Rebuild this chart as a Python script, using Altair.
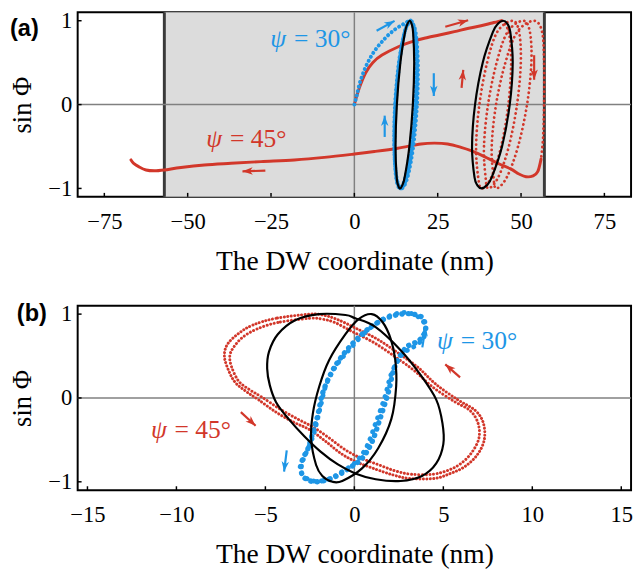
import math
import altair as alt
import pandas as pd

# ---------------- values ----------------
a_x_ticks = [-75, -50, -25, 0, 25, 50, 75]
b_x_ticks = [-15, -10, -5, 0, 5, 10, 15]
y_ticks = [-1, 0, 1]
a_band = [-57, 57]

# panel (a) – psi = 45 deg (red)
a_red_fwd_x = [0, 1.5, 3.4, 5.5, 8.3, 13.2, 18.1, 22.0, 25.5, 30.0, 34.3, 38.0, 41.0, 43.0, 44.2]
a_red_fwd_y = [0, 0.2, 0.38, 0.5, 0.59, 0.69, 0.76, 0.8, 0.83, 0.87, 0.91, 0.94, 0.97, 0.99, 1.0]

a_red_loop_x = [44.2, 46.3, 47.03, 46.2, 44.03, 41.1, 38.2, 37.14, 36.52, 37.5, 39.82, 42.86,
                47.4, 49.42, 49.93, 48.8, 46.33, 43.18, 40.2, 39.36, 38.88, 40.1, 42.68, 45.94,
                50.6, 52.66, 53.1, 51.8, 49.1, 45.74, 42.6, 41.75, 41.2, 42.5, 45.3, 48.85,
                53.8, 56.3, 56.9, 56.9, 56.6, 56.0]
a_red_loop_y = [1.0, 0.866, 0.5, 0.0, -0.5, -0.866, -1.0, -0.866, -0.5, 0.0, 0.5, 0.866,
                1.0, 0.866, 0.5, 0.0, -0.5, -0.866, -1.0, -0.866, -0.5, 0.0, 0.5, 0.866,
                1.0, 0.866, 0.5, 0.0, -0.5, -0.866, -1.0, -0.866, -0.5, 0.0, 0.5, 0.866,
                1.0, 0.87, 0.5, 0.0, -0.4, -0.65]

a_red_back_x = [56.0, 55.0, 53.6, 51.5, 49.0, 47.0, 43.0, 39.0, 35.0, 32.0, 28.0, 24.0, 20.0,
                13.0, 6.0, 0.0, -9.0, -18.0, -28.0, -37.0, -45.0, -52.0, -57.0, -60.0, -62.5,
                -64.7, -66.2, -67.0]
a_red_back_y = [-0.65, -0.8, -0.85, -0.86, -0.82, -0.77, -0.7, -0.62, -0.55, -0.51, -0.47,
                -0.46, -0.47, -0.52, -0.56, -0.59, -0.63, -0.66, -0.68, -0.7, -0.72, -0.75, -0.78,
                -0.79, -0.78, -0.74, -0.7, -0.66]

# panel (a) – psi = 30 deg (blue)
a_blue_x = [0, 0.8, 1.5, 2.4, 3.4, 4.4, 5.4, 6.8, 8.3, 10.2, 12.3, 14.3, 16.0,
            16.9, 18.36, 19.06, 18.8, 17.66, 15.94, 14.1, 12.64, 11.94, 12.2, 13.34, 15.06,
            16.7, 17.9, 18.37, 18.0, 16.87, 15.3, 13.7, 12.5, 12.03, 12.4, 13.53, 15.1,
            16.85, 18.21, 18.81, 18.5, 17.36, 15.69, 13.95, 12.59, 11.99, 12.3, 13.45, 15.11, 16.8]
a_blue_y = [0, 0.12, 0.24, 0.35, 0.45, 0.53, 0.6, 0.68, 0.75, 0.83, 0.9, 0.95, 0.99,
            1.0, 0.866, 0.5, 0.0, -0.5, -0.866, -1.0, -0.866, -0.5, 0.0, 0.5, 0.866,
            1.0, 0.866, 0.5, 0.0, -0.5, -0.866, -1.0, -0.866, -0.5, 0.0, 0.5, 0.866,
            1.0, 0.866, 0.5, 0.0, -0.5, -0.866, -1.0, -0.866, -0.5, 0.0, 0.5, 0.866, 1.0]

# panel (a) – black closed curves
a_ell1_x = [16.6, 17.13, 17.61, 17.95, 17.55, 16.5, 15.09, 14.33, 13.7, 13.17, 12.69, 12.35, 12.75, 13.8, 15.21, 15.97]
a_ell1_y = [1.0, 0.966, 0.866, 0.5, 0.0, -0.5, -0.866, -0.966, -1.0, -0.966, -0.866, -0.5, 0.0, 0.5, 0.866, 0.966]
a_ell2_x = [44.6, 45.84, 46.77, 47.5, 46.6, 44.3, 41.23, 39.66, 38.2, 36.96, 36.03, 35.3, 36.2, 38.5, 41.57, 43.14]
a_ell2_y = [1.0, 0.966, 0.866, 0.5, 0.0, -0.5, -0.866, -0.966, -1.0, -0.966, -0.866, -0.5, 0.0, 0.5, 0.866, 0.966]

# panel (a) arrows (start -> tip) and labels
a_arr_x1 = [6.67, 23.83, 9.1, 27.27, 32.16, 53.93, -26.7]
a_arr_y1 = [0.881, 0.374, -0.386, 0.928, 0.199, 0.589, -0.788]
a_arr_x2 = [12.06, 23.83, 9.1, 34.13, 32.66, 53.93, -33.56]
a_arr_y2 = [0.998, 0.102, -0.132, 1.006, 0.413, 0.296, -0.796]
a_arr_c = ["b", "b", "b", "r", "r", "r", "r"]
a_lab_x = [-25.2, -44.4]
a_lab_y = [0.687, -0.503]
a_lab_t = ["= 30°", "= 45°"]
a_lab_c = ["b", "r"]

# panel (b)
b_red_x = [-2.5, -4.4, -5.7, -6.5, -7.1, -7.3, -7.2, -6.75, -6.1, -5.4, -4.4, -3.4, -2.5, -1.6, -0.7,
           0.2, 1.2, 2.2, 3.1, 4.5, 5.4, 6.2, 6.9, 7.3, 7.25, 6.8, 5.8, 4.6, 3.6, 2.5, 1.3, 0.1, -1.0, -1.8]
b_red_y = [1.0, 0.95, 0.87, 0.77, 0.65, 0.53, 0.4, 0.2, 0.08, -0.02, -0.17, -0.29, -0.38, -0.52, -0.67,
           -0.77, -0.85, -0.92, -0.96, -0.96, -0.9, -0.82, -0.68, -0.5, -0.3, -0.15, -0.02, 0.16, 0.36,
           0.53, 0.7, 0.83, 0.94, 0.99]
b_red2_x = [-2.5, -4.3, -5.5, -6.3, -6.8, -7.0, -6.9, -6.5, -5.9, -5.2, -4.2, -3.2, -2.3, -1.4, -0.5,
            0.4, 1.4, 2.3, 3.2, 4.4, 5.3, 6.0, 6.6, 7.0, 6.95, 6.5, 5.6, 4.4, 3.4, 2.3, 1.1, -0.1, -1.1, -1.8]
b_red2_y = [0.95, 0.9, 0.82, 0.72, 0.6, 0.5, 0.37, 0.2, 0.1, 0.01, -0.13, -0.25, -0.35, -0.48, -0.62,
            -0.72, -0.8, -0.87, -0.91, -0.91, -0.86, -0.78, -0.65, -0.48, -0.3, -0.15, -0.04, 0.13,
            0.32, 0.49, 0.66, 0.79, 0.9, 0.94]

b_blue_x = [-0.31, 0.43, 1.16, 1.9, 2.63, 3.3, 3.85, 4.0, 3.6, 2.9, 2.27, 1.9, 1.44, 0.98, 0.43,
            -0.31, -1.2, -2.2, -2.9, -2.95, -2.6, -2.33, -2.06, -1.78, -1.32, -0.86]
b_blue_y = [0.6, 0.76, 0.88, 0.96, 1.0, 1.0, 0.95, 0.8, 0.68, 0.6, 0.37, 0.06, -0.25, -0.53, -0.72,
            -0.84, -0.95, -1.0, -0.93, -0.76, -0.6, -0.41, -0.21, 0.06, 0.29, 0.45]
b_blue2_x = [-0.1, 0.6, 1.3, 2.0, 2.8, 3.5, 3.95, 3.9, 3.4, 2.7, 2.1, 1.7, 1.2, 0.7, 0.1,
             -0.7, -1.6, -2.5, -3.05, -2.8, -2.4, -2.15, -1.9, -1.6, -1.1, -0.6]
b_blue2_y = [0.62, 0.78, 0.9, 0.98, 1.02, 0.98, 0.88, 0.72, 0.62, 0.52, 0.3, 0.0, -0.3, -0.58, -0.76,
             -0.88, -0.98, -0.98, -0.86, -0.7, -0.5, -0.32, -0.1, 0.15, 0.36, 0.5]

b_ell1_x = [-0.5, -2.0, -3.3, -4.3, -4.8, -4.9, -4.75, -4.4, -3.7, -2.8, -1.9, -0.95, 0.05, 1.2,
            2.6, 3.8, 4.6, 5.0, 4.95, 4.6, 3.7, 2.6, 1.16, 0.05]
b_ell1_y = [0.99, 1.0, 0.93, 0.76, 0.55, 0.35, 0.15, -0.05, -0.25, -0.46, -0.64, -0.79, -0.9, -0.97,
            -0.99, -0.93, -0.78, -0.55, -0.3, -0.02, 0.28, 0.57, 0.85, 0.95]
b_ell2_x = [0.98, 1.6, 2.05, 2.3, 2.35, 2.08, 1.34, 0.43, -0.68, -1.23, -1.8, -2.15, -2.43, -2.33,
            -1.97, -1.42, -0.5, 0.24]
b_ell2_y = [1.0, 0.9, 0.7, 0.45, 0.14, -0.25, -0.6, -0.84, -0.99, -1.0, -0.93, -0.8, -0.49, -0.18,
            0.14, 0.45, 0.76, 0.94]

b_arr_x1 = [3.82, -3.8, -6.38, 5.94]
b_arr_y1 = [0.604, -0.625, -0.169, 0.246]
b_arr_x2 = [4.01, -3.95, -5.55, 5.11]
b_arr_y2 = [0.858, -0.878, -0.332, 0.401]
b_arr_c = ["b", "b", "r", "r"]
b_lab_x = [4.65, -11.43]
b_lab_y = [0.585, -0.473]
b_lab_t = ["= 30°", "= 45°"]
b_lab_c = ["b", "r"]

# ---------------- styling ----------------
W, H = 564, 188
A_DOM = [-83, 83]
B_DOM = [-15.55, 15.55]
Y_DOM = [-1.1, 1.1]
SY = H / (Y_DOM[1] - Y_DOM[0])
SERIF = "Liberation Serif"
SANS = "Liberation Sans"
RED = "#d2372a"
BLUE = "#1e96e6"
CMAP = {"r": RED, "b": BLUE}
HEAD = "M0,0L-0.8,2.2L0,1.6L0.8,2.2Z"


def xaxis(values):
    return alt.Axis(values=values, format="d", title="The DW coordinate (nm)", grid=False,
                    domain=False, ticks=False, labelFont=SERIF, labelFontSize=23,
                    labelColor="black", labelPadding=32, labelBaseline="alphabetic",
                    labelFlush=False, labelOverlap=False, titleFont=SERIF, titleFontSize=28,
                    titleFontWeight="normal", titleColor="black", titleX=W / 2, titleY=74,
                    titleAlign="center", titleBaseline="alphabetic")


YAXIS = alt.Axis(values=y_ticks, format="d", title="sin Φ", grid=False, domain=False,
                 ticks=False, labelFont=SERIF, labelFontSize=23, labelColor="black",
                 labelPadding=6, labelFlush=False, labelOverlap=False, titleFont=SERIF,
                 titleFontSize=27, titleFontWeight="normal", titleColor="black", titleX=-56,
                 titleY=H / 2, titleAngle=270, titleAlign="center", titleBaseline="middle")


class Panel:
    def __init__(self, dom, ticks):
        self.xs = alt.Scale(domain=dom, nice=False, zero=False)
        self.ys = alt.Scale(domain=Y_DOM, nice=False, zero=False)
        self.xa = xaxis(ticks)
        self.sx = W / (dom[1] - dom[0])
        self.ticks = ticks

    def X(self, f):
        return alt.X(f, type="quantitative", scale=self.xs, axis=self.xa)

    def Y(self, f):
        return alt.Y(f, type="quantitative", scale=self.ys, axis=YAXIS)


def path(P, xs, ys, color, width, dash=None, interp="cardinal"):
    df = pd.DataFrame({"x": xs, "y": ys, "i": list(range(len(xs)))})
    kw = dict(color=color, strokeWidth=width, interpolate=interp, strokeCap="round",
              strokeJoin="round")
    if dash is not None:
        kw["strokeDash"] = dash
    return alt.Chart(df).mark_line(**kw).encode(x=P.X("x"), y=P.Y("y"), order=alt.Order("i:Q"))


def arrows(P, x1, y1, x2, y2, cols):
    ang = [math.degrees(math.atan2((b - a) * P.sx, (d - c) * SY)) % 360
           for a, b, c, d in zip(x1, x2, y1, y2)]
    df = pd.DataFrame({"x1": x1, "y1": y1, "x2": x2, "y2": y2,
                       "c": [CMAP[c] for c in cols], "ang": ang})
    shaft = alt.Chart(df).mark_rule(strokeWidth=2.2).encode(
        x=P.X("x1"), y=P.Y("y1"), x2="x2:Q", y2="y2:Q", color=alt.Color("c:N", scale=None))
    head = alt.Chart(df).mark_point(shape=HEAD, filled=True, size=90, opacity=1, strokeWidth=0).encode(
        x=P.X("x2"), y=P.Y("y2"), angle=alt.Angle("ang:Q", scale=None),
        color=alt.Color("c:N", scale=None))
    return [shaft, head]


def labels(P, xs, ys, ts, cols):
    df = pd.DataFrame({"x": xs, "y": ys, "t": ts, "c": [CMAP[c] for c in cols]})
    psi = alt.Chart(df).mark_text(text="ψ", font=SERIF, fontSize=26, fontStyle="italic",
                                  align="left", baseline="alphabetic").encode(
        x=P.X("x"), y=P.Y("y"), color=alt.Color("c:N", scale=None))
    rest = alt.Chart(df).mark_text(font=SERIF, fontSize=26, align="left", baseline="alphabetic",
                                   dx=24).encode(
        x=P.X("x"), y=P.Y("y"), text="t:N", color=alt.Color("c:N", scale=None))
    return [psi, rest]


def zero_lines(P):
    zv = alt.Chart(pd.DataFrame({"x": [0]})).mark_rule(color="#808080", strokeWidth=1.5).encode(
        x=P.X("x"), y=alt.value(0), y2=alt.value(H))
    zh = alt.Chart(pd.DataFrame({"y": [0]})).mark_rule(color="#808080", strokeWidth=1.5).encode(
        y=P.Y("y"), x=alt.value(0), x2=alt.value(W))
    return [zv, zh]


def tick_marks(P):
    tx = alt.Chart(pd.DataFrame({"x": P.ticks})).mark_rule(color="black", strokeWidth=1.5).encode(
        x=P.X("x"), y=alt.value(H), y2=alt.value(H - 4))
    ty = alt.Chart(pd.DataFrame({"y": y_ticks})).mark_rule(color="black", strokeWidth=1.5).encode(
        y=P.Y("y"), x=alt.value(0), x2=alt.value(4))
    return [tx, ty]


def tag(txt, x, y):
    return alt.Chart(pd.DataFrame({"t": [txt]})).mark_text(
        font=SANS, fontSize=24, fontWeight="bold", align="left", baseline="middle",
        color="black").encode(text="t:N", x=alt.value(x), y=alt.value(y))


# ---------------- panel (a) ----------------
PA = Panel(A_DOM, a_x_ticks)
band = alt.Chart(pd.DataFrame({"x0": [a_band[0]], "x1": [a_band[1]]})).mark_rect(
    color="#dcdcdc").encode(x=PA.X("x0"), x2="x1:Q", y=alt.value(0), y2=alt.value(H))
band_edges = alt.Chart(pd.DataFrame({"x": a_band})).mark_rule(color="#3a3a3a", strokeWidth=3).encode(
    x=PA.X("x"), y=alt.value(0), y2=alt.value(H))

layers_a = [band, band_edges] + zero_lines(PA) + [
    path(PA, a_red_fwd_x, a_red_fwd_y, RED, 3),
    path(PA, a_red_loop_x, a_red_loop_y, RED, 2.8, dash=[0.1, 4.6]),
    path(PA, a_red_back_x, a_red_back_y, RED, 3),
    path(PA, a_blue_x, a_blue_y, BLUE, 4, dash=[0.1, 4.6]),
    path(PA, a_ell1_x, a_ell1_y, "black", 2.2, interp="cardinal-closed"),
    path(PA, a_ell2_x, a_ell2_y, "black", 2.2, interp="cardinal-closed"),
] + arrows(PA, a_arr_x1, a_arr_y1, a_arr_x2, a_arr_y2, a_arr_c) \
  + labels(PA, a_lab_x, a_lab_y, a_lab_t, a_lab_c) + tick_marks(PA) + [tag("(a)", -69, 17)]

chart_a = alt.layer(*layers_a).properties(width=W, height=H)

# ---------------- panel (b) ----------------
PB = Panel(B_DOM, b_x_ticks)
layers_b = zero_lines(PB) + [
    path(PB, b_red_x, b_red_y, RED, 3, dash=[0.1, 3.4], interp="cardinal-closed"),
    path(PB, b_red2_x, b_red2_y, RED, 3, dash=[0.1, 3.6], interp="cardinal-closed"),
    path(PB, b_blue_x, b_blue_y, BLUE, 5.5, dash=[0.1, 6.5], interp="cardinal-closed"),
    path(PB, b_blue2_x, b_blue2_y, BLUE, 5, dash=[0.1, 7.5], interp="cardinal-closed"),
    path(PB, b_ell1_x, b_ell1_y, "black", 2.2, interp="cardinal-closed"),
    path(PB, b_ell2_x, b_ell2_y, "black", 2.2, interp="cardinal-closed"),
] + arrows(PB, b_arr_x1, b_arr_y1, b_arr_x2, b_arr_y2, b_arr_c) \
  + labels(PB, b_lab_x, b_lab_y, b_lab_t, b_lab_c) + tick_marks(PB) + [tag("(b)", -62, 9)]

chart_b = alt.layer(*layers_b).properties(width=W, height=H)

chart = alt.vconcat(
    chart_a, chart_b, spacing=26,
    padding={"top": -5, "left": 0, "right": 0, "bottom": 0},
).configure(background="white", view=alt.ViewConfig(stroke="black", strokeWidth=2))

chart.save("out.html", embed_options={"renderer": "svg", "actions": False})
